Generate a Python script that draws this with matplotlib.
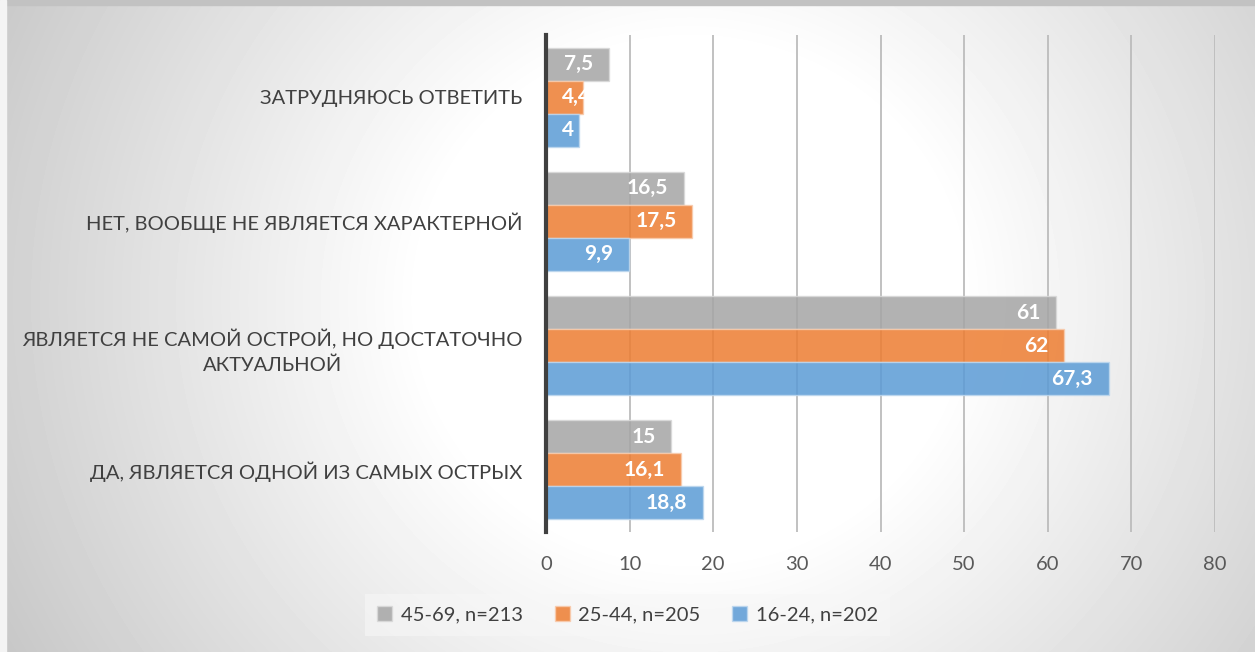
import numpy as np
import matplotlib.pyplot as plt
from matplotlib.patches import Patch, Rectangle

plt.rcParams['font.family'] = ['Lato', 'DejaVu Sans']

# данные (снизу вверх)
categories = ['ДА, ЯВЛЯЕТСЯ ОДНОЙ ИЗ САМЫХ ОСТРЫХ',
              'ЯВЛЯЕТСЯ НЕ САМОЙ ОСТРОЙ, НО ДОСТАТОЧНО\nАКТУАЛЬНОЙ',
              'НЕТ, ВООБЩЕ НЕ ЯВЛЯЕТСЯ ХАРАКТЕРНОЙ',
              'ЗАТРУДНЯЮСЬ ОТВЕТИТЬ']
series_names = ['45-69, n=213', '25-44, n=205', '16-24, n=202']
vals_45_69 = [15, 61, 16.5, 7.5]
vals_25_44 = [16.1, 62, 17.5, 4.4]
vals_16_24 = [18.8, 67.3, 9.9, 4]
x_ticks = [0, 10, 20, 30, 40, 50, 60, 70, 80]

colors = ['#A5A5A5', '#ED7D31', '#5B9BD5']
edges = ['#d9d9d9', '#f8cbad', '#bdd7ee']

fig = plt.figure(figsize=(12.55, 6.52), dpi=100)

# радиальный градиент фона
W, H = 1255, 652
xx, yy = np.meshgrid(np.arange(W), np.arange(H))
d = np.hypot(xx - 690, (yy - 300) * 1.05)
grad = np.clip(255 - 0.11 * (d - 270), 196, 255) / 255.0
bg = fig.add_axes([0, 0, 1, 1], zorder=-2)
bg.imshow(grad, cmap='gray', vmin=0, vmax=1, aspect='auto', extent=[0, 1, 0, 1])
bg.axis('off')
fig.patches.append(Rectangle((0, 1 - 5 / H), 1, 5 / H, transform=fig.transFigure,
                             color='#c2c2c2', zorder=-1))
fig.patches.append(Rectangle((0, 0), 6 / W, 1, transform=fig.transFigure,
                             color='#f4f4f4', zorder=-1))

ax = fig.add_axes([546 / W, 1 - 532 / H, (1215 - 546) / W, (532 - 35) / H])
ax.set_facecolor('none')

y = np.arange(len(categories))
h = 0.265
all_vals = [vals_45_69, vals_25_44, vals_16_24]
offsets = [h, 0, -h]
for vals, off, c, ec, name in zip(all_vals, offsets, colors, edges, series_names):
    ax.barh(y + off, vals, height=h, color=c, alpha=0.85, edgecolor=ec,
            linewidth=1, label=name, zorder=2)
    for yi, v in zip(y, vals):
        txt = f'{v:g}'.replace('.', ',')
        if v < 6:
            ax.annotate(txt, xy=(0, yi + off), xytext=(16, 0), textcoords='offset pixels',
                        ha='left', va='center', color='white', fontsize=15,
                        fontweight='bold', zorder=3)
        else:
            ax.annotate(txt, xy=(v, yi + off), xytext=(-16, 0), textcoords='offset pixels',
                        ha='right', va='center', color='white', fontsize=15,
                        fontweight='bold', zorder=3)

ax.set_xlim(0, 80)
ax.set_ylim(-0.5, 3.5)
ax.set_xticks(x_ticks)
ax.set_yticks(y)
ax.set_yticklabels(categories, ha='right', multialignment='center', linespacing=1.55)
ax.tick_params(axis='y', length=0, pad=17, labelsize=14.5, labelcolor='#404040')
ax.tick_params(axis='x', length=0, pad=17, labelsize=14.5, labelcolor='#595959')
ax.xaxis.grid(True, color='#bcbcbc', linewidth=1.3, zorder=0)
ax.set_axisbelow(True)
for s in ['top', 'right', 'bottom']:
    ax.spines[s].set_visible(False)
ax.spines['left'].set_color('#404040')
ax.spines['left'].set_linewidth(3)
ax.spines['left'].set_zorder(4)

handles = [Patch(facecolor=c, edgecolor=ec, alpha=0.85) for c, ec in zip(colors, edges)]
leg = ax.legend(handles, series_names, loc='center', bbox_to_anchor=(0.5, 0.057),
                bbox_transform=fig.transFigure, ncol=3, fontsize=14.5, frameon=True,
                facecolor='#f7f7f7', edgecolor='none', framealpha=0.6, fancybox=False,
                handlelength=0.75, handleheight=0.75, handletextpad=0.4, columnspacing=1.6,
                labelcolor='#404040', borderpad=0.6, borderaxespad=0)

plt.savefig('out.png', dpi=100)
